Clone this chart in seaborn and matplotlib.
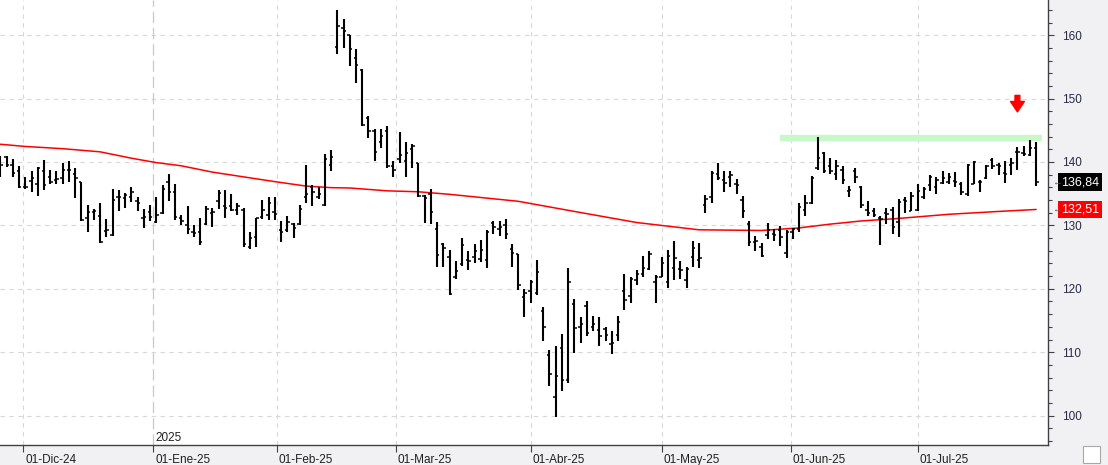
import numpy as np
import pandas as pd
import seaborn as sns
import matplotlib.pyplot as plt
from matplotlib.transforms import ScaledTranslation
from matplotlib.patches import Rectangle

# daily bars (open, high, low, close)
opens = [140.8, 140.8, 139.6, 138.6, 136.0, 137.0, 136.5, 138.5, 137.7, 137.2,
         137.4, 138.7, 138.1, 136.8, 131.2, 132.1, 131.5, 129.1, 128.5, 134.5,
         134.3, 134.5, 133.9, 131.2, 132.1, 130.5, 131.9, 136.9, 135.2, 131.1,
         130.0, 129.0, 129.0, 130.2, 131.9, 133.8, 133.0, 133.0, 132.4, 132.4,
         126.6, 128.1, 131.4, 131.7, 132.1, 129.3, 129.3, 130.2, 130.2, 134.5,
         136.0, 134.5, 133.2, 139.6, 158.1, 161.1, 160.0, 156.4, 154.5, 147.0,
         144.9, 143.2, 144.9, 139.4, 140.4, 140.2, 142.0, 139.8, 134.6, 135.0,
         129.5, 127.1, 125.0, 121.9, 123.9, 124.5, 125.0, 124.7, 124.5, 130.3,
         129.5, 130.0, 126.2, 125.5, 118.7, 119.7, 119.4, 116.5, 109.6, 102.9,
         110.6, 105.6, 117.6, 113.9, 117.3, 114.0, 113.5, 113.7, 111.3, 112.7,
         119.7, 118.8, 121.4, 122.4, 123.1, 121.1, 121.9, 121.1, 123.2, 123.1,
         121.4, 125.0, 124.5, 133.2, 134.5, 138.1, 137.2, 137.6, 136.5, 134.0,
         130.2, 127.4, 126.6, 128.5, 128.7, 129.3, 125.6, 128.9, 129.5, 132.4,
         133.5, 139.1, 141.4, 139.3, 138.1, 138.7, 135.4, 138.5, 136.1, 132.4,
         132.2, 131.1, 132.0, 132.4, 130.6, 134.0, 132.3, 132.4, 134.5, 136.4,
         136.1, 136.7, 136.9, 137.0, 136.6, 135.0, 136.6, 136.9, 137.4, 140.3,
         139.5, 138.2, 139.6, 141.5, 141.4, 141.1, 142.2]
highs = [141.0, 141.0, 140.5, 139.4, 137.7, 138.5, 139.2, 140.3, 138.7, 138.6,
         139.8, 140.2, 139.0, 136.9, 133.2, 132.6, 133.6, 131.0, 135.7, 135.6,
         135.1, 136.1, 134.5, 132.6, 133.2, 134.4, 136.3, 138.1, 136.6, 131.6,
         133.1, 130.1, 131.2, 133.1, 132.8, 135.6, 135.6, 134.9, 133.6, 132.7,
         129.0, 131.2, 134.0, 134.4, 134.4, 130.7, 131.5, 130.3, 133.2, 139.5,
         136.3, 136.1, 141.2, 141.9, 164.0, 162.6, 160.0, 157.8, 154.6, 147.2,
         145.2, 145.2, 145.7, 140.1, 144.7, 143.2, 142.8, 139.8, 134.8, 135.8,
         130.6, 127.3, 126.1, 124.4, 128.0, 126.0, 127.1, 127.7, 129.3, 130.7,
         130.7, 131.0, 127.0, 125.5, 119.9, 121.4, 124.5, 117.1, 110.4, 110.9,
         112.9, 123.2, 118.4, 115.5, 118.1, 115.7, 115.6, 114.0, 113.3, 115.7,
         122.3, 121.8, 123.0, 125.2, 126.0, 122.2, 125.0, 126.1, 127.5, 124.4,
         123.5, 127.5, 127.3, 134.8, 138.5, 139.9, 138.5, 138.5, 137.3, 134.6,
         130.7, 128.3, 127.3, 130.3, 129.4, 129.9, 129.3, 129.6, 133.6, 134.8,
         137.8, 144.0, 141.5, 140.6, 140.3, 139.3, 136.2, 139.1, 136.2, 133.8,
         132.7, 131.5, 132.7, 132.9, 134.1, 134.4, 135.2, 136.6, 136.1, 138.0,
         137.6, 138.5, 138.3, 138.4, 136.9, 139.7, 140.2, 137.2, 139.5, 140.7,
         139.9, 140.1, 140.7, 142.4, 142.5, 143.4, 143.2]
lows = [137.7, 139.2, 137.6, 135.9, 135.7, 135.3, 134.7, 135.6, 136.5, 136.5,
        136.5, 136.9, 134.3, 130.7, 129.0, 130.8, 127.2, 128.2, 128.4, 132.2,
        132.8, 133.7, 132.2, 129.6, 130.7, 130.3, 131.8, 133.8, 130.8, 130.1,
        128.7, 128.1, 126.9, 130.1, 129.8, 132.6, 131.1, 132.3, 131.6, 126.6,
        126.3, 126.6, 131.0, 130.8, 130.8, 127.4, 129.0, 128.0, 130.1, 133.5,
        133.0, 134.2, 133.1, 138.6, 157.0, 158.0, 155.2, 152.4, 145.6, 143.8,
        140.2, 142.2, 139.0, 137.6, 139.8, 137.7, 139.0, 134.5, 130.3, 130.2,
        123.5, 123.4, 119.0, 121.5, 123.6, 123.0, 124.0, 124.3, 123.2, 128.6,
        128.4, 127.8, 123.4, 119.8, 115.5, 117.7, 119.0, 111.7, 104.6, 99.7,
        103.9, 105.2, 109.9, 111.5, 112.5, 113.4, 110.9, 111.8, 109.7, 111.8,
        116.6, 117.8, 120.6, 121.9, 123.0, 117.8, 121.8, 120.1, 121.4, 121.5,
        120.2, 123.4, 123.2, 132.0, 133.6, 137.2, 135.2, 136.1, 134.9, 131.2,
        126.8, 126.0, 125.0, 127.8, 127.6, 126.8, 124.9, 127.9, 129.0, 131.5,
        133.4, 138.8, 138.2, 138.1, 137.1, 136.6, 134.5, 136.7, 132.8, 131.5,
        131.3, 126.9, 130.2, 128.7, 128.2, 132.0, 132.2, 132.2, 134.2, 135.5,
        135.0, 136.5, 136.5, 136.0, 134.8, 134.6, 136.5, 135.3, 137.3, 138.9,
        138.0, 136.7, 138.0, 138.7, 140.9, 140.9, 136.2]
closes = [139.5, 139.6, 138.3, 136.0, 136.1, 137.5, 139.0, 136.4, 136.9, 137.3,
          138.7, 138.8, 137.4, 130.8, 132.1, 132.2, 127.4, 129.3, 134.0, 134.5,
          134.8, 135.2, 133.5, 131.4, 131.4, 131.6, 135.7, 135.2, 131.4, 130.7,
          129.5, 128.8, 127.4, 132.6, 132.1, 135.1, 132.8, 132.4, 133.1, 127.0,
          128.0, 131.1, 132.4, 133.5, 131.8, 129.0, 130.5, 129.6, 132.6, 135.0,
          135.3, 134.9, 140.5, 140.8, 161.5, 160.6, 157.9, 155.3, 145.9, 144.9,
          141.6, 144.1, 139.4, 138.8, 141.1, 141.4, 142.5, 134.7, 134.3, 132.1,
          125.3, 126.5, 119.2, 122.8, 126.9, 124.4, 126.0, 126.1, 128.9, 129.8,
          129.7, 128.6, 125.6, 120.6, 119.3, 121.1, 122.6, 114.0, 106.6, 106.3,
          105.6, 121.0, 113.8, 114.4, 113.1, 114.5, 112.6, 112.7, 111.4, 114.7,
          118.2, 121.6, 122.4, 123.2, 125.5, 121.9, 124.0, 125.2, 124.8, 123.0,
          123.1, 126.4, 124.9, 134.1, 138.3, 137.4, 136.7, 138.0, 136.4, 132.2,
          127.4, 127.5, 125.1, 129.3, 128.5, 128.2, 129.0, 129.5, 132.9, 133.5,
          137.4, 140.6, 138.6, 138.5, 139.3, 137.2, 135.6, 137.7, 133.2, 132.0,
          131.6, 131.0, 131.8, 129.7, 133.7, 133.8, 134.6, 135.5, 135.8, 137.7,
          137.1, 137.4, 137.6, 136.9, 135.2, 139.5, 140.0, 136.8, 139.3, 139.4,
          139.3, 138.1, 139.8, 141.5, 141.3, 142.2, 136.84]

# red moving average, read at a few bars
ma_idx = [0, 4, 10, 16, 21, 25, 29, 34, 40, 44, 49, 53, 56, 62, 67,
          72, 77, 83, 92, 102, 112, 117, 122, 128, 133, 138, 144, 152, 160, 166]
ma_val = [142.8, 142.45, 142.1, 141.6, 140.6, 139.9, 139.4, 138.4, 137.5, 136.9,
          136.2, 135.95, 135.9, 135.45, 135.3, 134.9, 134.4, 133.8, 132.2, 130.45,
          129.3, 129.25, 129.2, 129.6, 130.2, 130.7, 131.1, 131.75, 132.2, 132.51]

resistance = 143.85
resistance_start = 124.9
signal_bar = 163
meses = ['Dic', 'Ene', 'Feb', 'Mar', 'Abr', 'May', 'Jun', 'Jul']
holidays = ['2024-11-28', '2024-12-25', '2025-01-01', '2025-01-09', '2025-01-20',
            '2025-02-17', '2025-04-18', '2025-05-26', '2025-06-19', '2025-07-04']

dates = pd.bdate_range('2024-11-25', '2025-07-29')
dates = dates[~dates.isin(pd.to_datetime(holidays))]
df = pd.DataFrame({'date': dates, 'open': opens, 'high': highs,
                   'low': lows, 'close': closes})
df['i'] = np.arange(len(df))

# month starts placed between trading days
months = pd.date_range('2024-12-01', '2025-07-01', freq='MS')
pos = np.interp(months.values.astype('int64'), dates.values.astype('int64'), df.i)
labels = ['01-%s-%s' % (m, d.strftime('%y')) for m, d in zip(meses, months)]

sns.set_style('white')
plt.rcParams['font.family'] = ['Liberation Sans', 'DejaVu Sans']

W, H = 1108, 465
fig = plt.figure(figsize=(W / 100, H / 100), dpi=100, facecolor='#f1f1f3')
ax = fig.add_axes([0, 20 / H, 1048 / W, 445 / H])
ax.set_facecolor('white')

ylo, yhi = 95.36, 165.55
for v in range(100, 161, 10):
    ax.axhline(v, color='#d8d8d8', lw=0.8, ls=(0, (4, 4)), zorder=0)
for p, m in zip(pos, meses):
    if m == 'Ene':
        ax.axvline(p, color='#c8c8c8', lw=0.9, ls=(0, (9, 4)), zorder=0)
    else:
        ax.axvline(p, color='#d8d8d8', lw=0.8, ls=(0, (4, 4)), zorder=0)

# resistance band
ax.hlines(resistance, resistance_start, len(df), color='#c8f8c8', lw=4.6, zorder=1)

# moving average
sns.lineplot(x=ma_idx, y=ma_val, color='#ff0000', lw=1.1, ax=ax, zorder=2)

# OHLC bars
ax.vlines(df.i, df.low, df.high, color='black', lw=1.5, zorder=3)
ax.hlines(df.open, df.i - 0.38, df.i, color='black', lw=1.1, zorder=3)
ax.hlines(df.close, df.i, df.i + 0.38, color='black', lw=1.1, zorder=3)

# signal arrow
ax.annotate('', xy=(signal_bar, 147.9), xytext=(signal_bar, 150.5),
            arrowprops=dict(facecolor='#ff0000', edgecolor='#ff0000', width=3.5,
                            headwidth=10, headlength=7.5, shrink=0))

ax.set_xlim(-0.05, 167.9)
ax.set_ylim(ylo, yhi)
ax.set_xlabel('')
ax.set_ylabel('')

for s in ['top', 'left']:
    ax.spines[s].set_visible(False)
for s in ['right', 'bottom']:
    ax.spines[s].set_color('#404040')
    ax.spines[s].set_linewidth(1)

ax.yaxis.tick_right()
ax.set_yticks(range(100, 161, 10))
ax.set_yticks(np.arange(96, 166, 2), minor=True)
ax.tick_params(axis='y', which='major', length=4, width=0.8, color='#404040',
               pad=6, labelsize=8.5, labelcolor='#2a2a45', right=True, left=False)
ax.tick_params(axis='y', which='minor', length=3, width=0.8, color='#404040',
               right=True, left=False)

ax.set_xticks(pos, labels)
ax.tick_params(axis='x', length=5, width=0.8, color='#404040', pad=1.5,
               labelsize=8.5, labelcolor='#202020', bottom=True)
for lab in ax.get_xticklabels():
    lab.set_horizontalalignment('left')
    lab.set_transform(lab.get_transform() + ScaledTranslation(2 / 100, 0, fig.dpi_scale_trans))

ax.annotate('2025', xy=(pos[1], ylo), xytext=(1.5, 1), textcoords='offset points',
            fontsize=8.5, va='bottom', ha='left', color='#202020')

# last price and average tags
for val, bg in [(closes[-1], 'black'), (ma_val[-1], '#ff0000')]:
    ax.annotate(('%.2f' % val).replace('.', ','), xy=(1, val),
                xycoords=('axes fraction', 'data'), xytext=(13, 0),
                textcoords='offset pixels', color='white', fontsize=9,
                va='center', ha='left', annotation_clip=False,
                bbox=dict(boxstyle='square,pad=0.22', fc=bg, ec='none'))
    ax.annotate('\u2190', xy=(1, val), xycoords=('axes fraction', 'data'),
                xytext=(4, 0), textcoords='offset pixels', color='#606060',
                fontsize=7, va='center', ha='left', annotation_clip=False)

fig.patches.append(Rectangle((1083 / W, 2 / H), 17 / W, 17 / H, transform=fig.transFigure,
                             fc='white', ec='#a8a8a8', lw=0.8))

fig.savefig('out.png', dpi=100, facecolor=fig.get_facecolor())
